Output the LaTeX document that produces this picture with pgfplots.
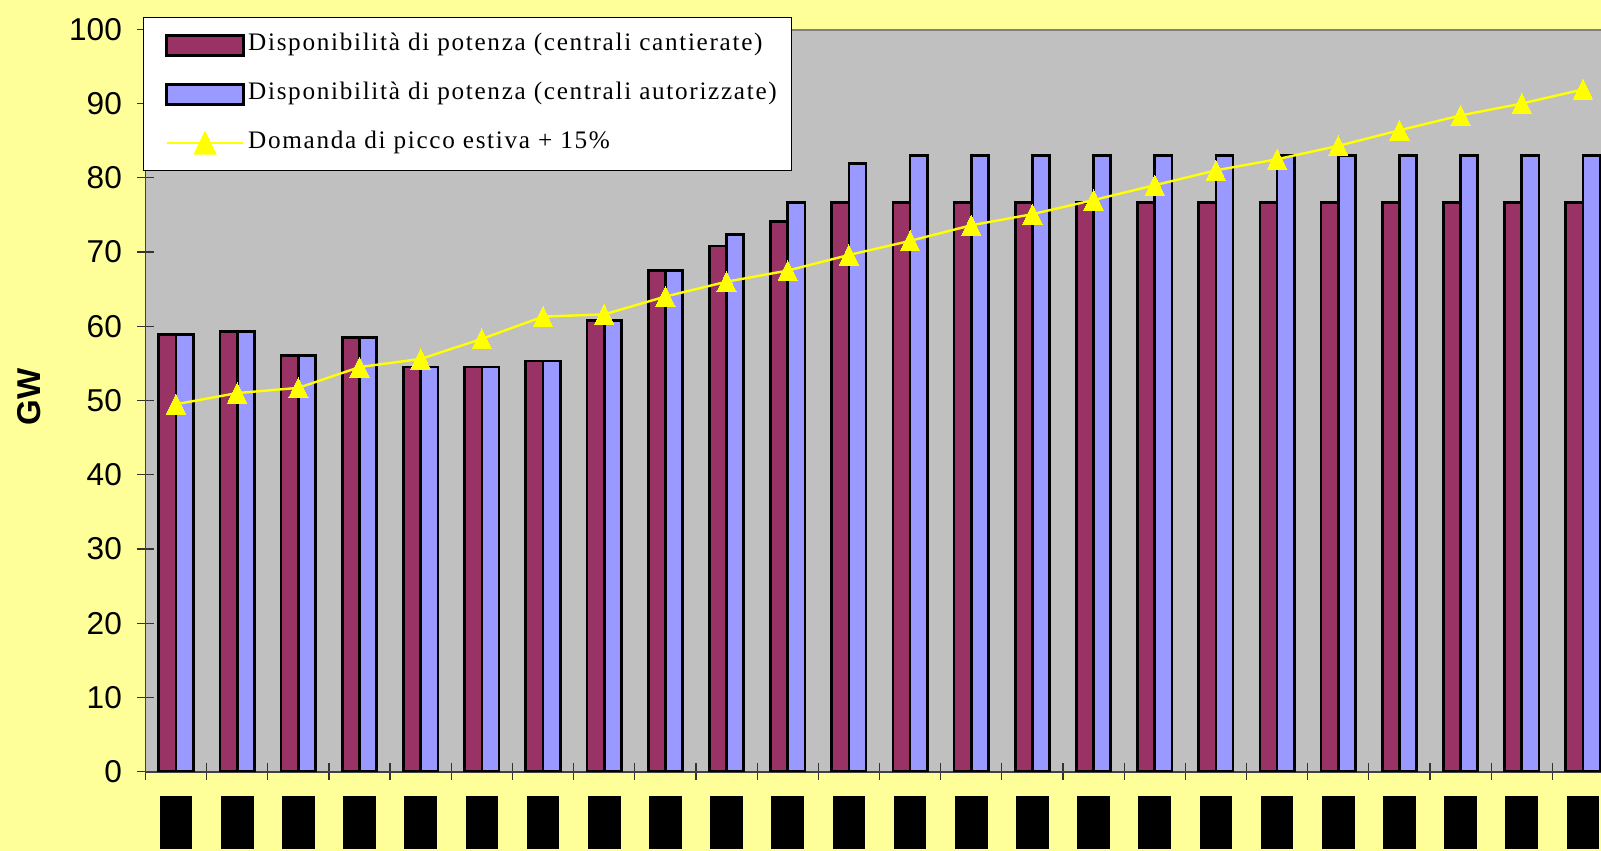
\documentclass[border=0pt]{standalone}
\usepackage{fontspec}
\setmainfont{Liberation Sans}
\newfontfamily\legendserif[LetterSpace=6.7]{Liberation Serif}
\usepackage{pgfplots}
\usepackage{pgfplotstable}
\pgfplotsset{compat=1.18}

\definecolor{bgyellow}{HTML}{FFFF99}
\definecolor{plotgrey}{HTML}{C0C0C0}
\definecolor{maroon}{HTML}{993366}
\definecolor{peri}{HTML}{9999FF}
\definecolor{peak}{HTML}{FFFF00}
\definecolor{framegrey}{HTML}{808080}

% GW per year: cantierate, autorizzate, domanda di picco estiva +15%
\pgfplotstableread{
idx cant aut dom
0  58.9 58.9 49.5
1  59.3 59.3 51.0
2  56.1 56.1 51.7
3  58.5 58.5 54.5
4  54.5 54.5 55.6
5  54.5 54.5 58.3
6  55.3 55.3 61.3
7  60.8 60.8 61.6
8  67.5 67.5 64.0
9  70.8 72.4 66.0
10 74.1 76.7 67.5
11 76.7 81.9 69.6
12 76.7 83.0 71.5
13 76.7 83.0 73.6
14 76.7 83.0 75.1
15 76.7 83.0 77.0
16 76.7 83.0 79.0
17 76.7 83.0 81.0
18 76.7 83.0 82.5
19 76.7 83.0 84.3
20 76.7 83.0 86.4
21 76.7 83.0 88.4
22 76.7 83.0 90.0
23 76.7 83.0 91.9
}\data

\newcommand\blk{\rule{16.35pt}{26.3pt}}
\newcommand\tickfont{\fontsize{15.8}{18}\selectfont}
\newcommand\legendfont{\legendserif\fontsize{12.6}{14}\selectfont}

\pgfplotsset{
  barkey/.style={legend image code/.code={\path (0pt,0pt);
    \draw[fill=#1, draw=black, line width=1.35pt] (3.7pt,-5pt) rectangle (41.95pt,5pt);}},
  peakkey/.style={legend image code/.code={\path (0pt,0pt);
    \draw[peak, line width=1.2pt] (3.7pt,0pt) -- (41.95pt,0pt);
    \fill[peak] (22.8pt,-1.68pt) ++(0,6.72pt) -- ++(-4.85pt,-10.08pt) -- ++(9.7pt,0) -- cycle;}},
}

\begin{document}
\begin{tikzpicture}
\path[use as bounding box] (0,0) rectangle (800.5pt,425.5pt);
\clip (0,0) rectangle (800.5pt,425.5pt);
\fill[bgyellow] (0,0) rectangle (800.5pt,425.5pt);
\begin{axis}[
  at={(72.7pt,39.65pt)}, anchor=south west,
  scale only axis, width=764.67pt, height=371.2pt,
  xmin=-0.5, xmax=24.5, ymin=0, ymax=100,
  axis background/.style={fill=plotgrey},
  axis x line*=bottom, axis y line*=left,
  axis line style={draw=black!75, line width=0.8pt},
  ytick={0,10,...,100},
  xtick={-0.5,0.5,...,23.5}, xticklabels={},
  extra x ticks={0,...,23},
  extra x tick labels={\blk,\blk,\blk,\blk,\blk,\blk,\blk,\blk,\blk,\blk,\blk,\blk,
                       \blk,\blk,\blk,\blk,\blk,\blk,\blk,\blk,\blk,\blk,\blk,\blk},
  extra x tick style={major tick length=0pt,
    xticklabel style={anchor=north, inner sep=0pt, yshift=-12.15pt}},
  tick align=center, major tick length=8.5pt,
  tick style={black!80, line width=0.6pt},
  yticklabel style={font=\tickfont, anchor=east, inner sep=0pt, xshift=-7.3pt},
  /pgf/number format/assume math mode=true,
  ylabel={GW},
  every axis y label/.style={at={(axis description cs:-0.0761,0.5047)},
    rotate=90, anchor=center, font=\bfseries\fontsize{16.5}{18}\selectfont},
  legend style={at={(axis description cs:-0.00183,1.01616)}, anchor=north west,
    draw=black, line width=0.5pt, fill=white, font=\legendfont,
    inner xsep=7.5pt, inner ysep=7.5pt, row sep=12pt, column sep=1.75pt,
    nodes={inner xsep=0pt, inner ysep=0pt, text height=9pt, text depth=3.5pt},
    cells={anchor=west}},
]
\addplot[ybar, bar width=8.6pt, bar shift=-4.3pt, fill=maroon, draw=black,
  line width=1.35pt, barkey=maroon]
  table[x=idx, y=cant] {\data};
\addlegendentry{Disponibilità di potenza (centrali cantierate)}
\addplot[ybar, bar width=8.6pt, bar shift=4.3pt, fill=peri, draw=black,
  line width=1.35pt, barkey=peri]
  table[x=idx, y=aut] {\data};
\addlegendentry{Disponibilità di potenza (centrali autorizzate)}
\addplot[peak, line width=1.2pt, mark=triangle*, mark size=5.6pt,
  mark options={fill=peak, draw=peak, line width=0pt, yshift=-1.68pt, yscale=1.2},
  peakkey]
  table[x=idx, y=dom] {\data};
\addlegendentry{Domanda di picco estiva + 15\%}
\draw[framegrey, line width=1.5pt] (rel axis cs:0,1) -- (rel axis cs:1,1);
\end{axis}
\end{tikzpicture}
\end{document}
